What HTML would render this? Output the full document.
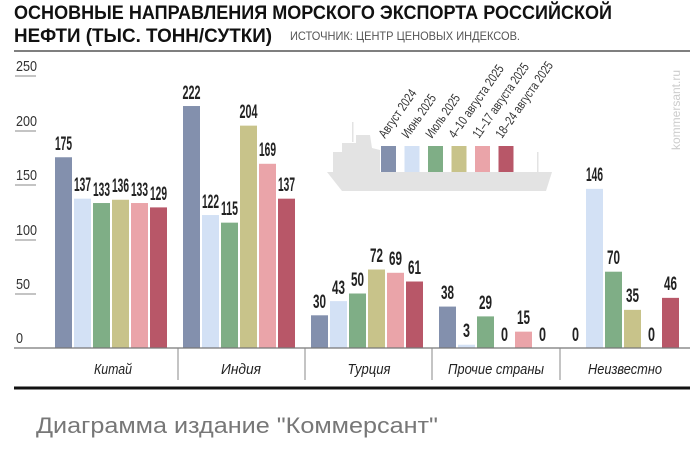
<!DOCTYPE html>
<html><head><meta charset="utf-8"><style>
html,body{margin:0;padding:0;background:#fff;}
svg{display:block;}
.t{font-family:"Liberation Sans Narrow","Liberation Sans",sans-serif;font-weight:bold;}
.v{font-family:"Liberation Sans Narrow","Liberation Sans",sans-serif;font-weight:bold;font-size:19px;fill:#222;text-anchor:middle;}
.ax{font-family:"Liberation Sans Narrow","Liberation Sans",sans-serif;font-size:15px;fill:#333;}
.c{font-family:"Liberation Sans Narrow","Liberation Sans",sans-serif;font-style:italic;font-size:15px;fill:#222;text-anchor:middle;}
.lg{font-family:"Liberation Sans Narrow","Liberation Sans",sans-serif;font-size:13px;fill:#333;}
</style></head><body>
<svg width="700" height="457" viewBox="0 0 700 457" xmlns="http://www.w3.org/2000/svg">
<text x="14" y="19" class="t" font-size="19" fill="#111" textLength="598" lengthAdjust="spacingAndGlyphs">ОСНОВНЫЕ НАПРАВЛЕНИЯ МОРСКОГО ЭКСПОРТА РОССИЙСКОЙ</text>
<text x="14" y="42" class="t" font-size="19" fill="#111" textLength="258" lengthAdjust="spacingAndGlyphs">НЕФТИ (ТЫС. ТОНН/СУТКИ)</text>
<text x="290" y="40" font-family="Liberation Sans Narrow,Liberation Sans,sans-serif" font-size="12" fill="#555" textLength="230" lengthAdjust="spacingAndGlyphs">ИСТОЧНИК: ЦЕНТР ЦЕНОВЫХ ИНДЕКСОВ.</text>
<line x1="14" y1="51" x2="690" y2="51" stroke="#555" stroke-width="1.5"/>
<text x="680" y="150" transform="rotate(-90 680 150)" font-family="Liberation Sans,sans-serif" font-size="12" fill="#ccc">kommersant.ru</text>
<g class="ax">
<text x="16" y="71" textLength="21" lengthAdjust="spacingAndGlyphs">250</text><line x1="15" y1="76" x2="36" y2="76" stroke="#888"/>
<text x="16" y="126" textLength="21" lengthAdjust="spacingAndGlyphs">200</text><line x1="15" y1="131" x2="36" y2="131" stroke="#888"/>
<text x="16" y="180" textLength="21" lengthAdjust="spacingAndGlyphs">150</text><line x1="15" y1="185" x2="36" y2="185" stroke="#888"/>
<text x="16" y="235" textLength="21" lengthAdjust="spacingAndGlyphs">100</text><line x1="15" y1="240" x2="36" y2="240" stroke="#888"/>
<text x="16" y="289" textLength="14" lengthAdjust="spacingAndGlyphs">50</text><line x1="15" y1="294" x2="36" y2="294" stroke="#888"/>
<text x="16" y="343" textLength="7" lengthAdjust="spacingAndGlyphs">0</text>
</g>
<g fill="#e3e3e3">
<polygon points="327,172 552,172 546,191 342,191"/>
<polygon points="333,172 333,152 342,152 342,143 356,143 356,135 370,135 372,148 380,150 380,172"/>
<rect x="352" y="122" width="1.5" height="20"/>
<rect x="537" y="152" width="1.5" height="20"/>
</g>
<rect x="381" y="146" width="15" height="26" fill="#8390ad"/>
<rect x="404.5" y="146" width="15" height="26" fill="#d3e1f5"/>
<rect x="428" y="146" width="15" height="26" fill="#7fae86"/>
<rect x="451.5" y="146" width="15" height="26" fill="#c8c38a"/>
<rect x="475" y="146" width="15" height="26" fill="#eaa4a9"/>
<rect x="498.5" y="146" width="15" height="26" fill="#b85768"/>
<g class="lg">
<text transform="translate(385 139) rotate(-55)" textLength="56" lengthAdjust="spacingAndGlyphs">Август 2024</text>
<text transform="translate(408 139) rotate(-55)" textLength="50" lengthAdjust="spacingAndGlyphs">Июнь 2025</text>
<text transform="translate(432 139) rotate(-55)" textLength="50" lengthAdjust="spacingAndGlyphs">Июль 2025</text>
<text transform="translate(455 139) rotate(-55)" textLength="86" lengthAdjust="spacingAndGlyphs">4–10 августа 2025</text>
<text transform="translate(479 139) rotate(-55)" textLength="88" lengthAdjust="spacingAndGlyphs">11–17 августа 2025</text>
<text transform="translate(502 139) rotate(-55)" textLength="90" lengthAdjust="spacingAndGlyphs">18–24 августа 2025</text>
</g>
<g>
<rect x="55" y="157.25" width="17" height="190.75" fill="#8390ad"/>
<rect x="74" y="198.67" width="17" height="149.33" fill="#d3e1f5"/>
<rect x="93" y="203.03" width="17" height="144.97" fill="#7fae86"/>
<rect x="112" y="199.76" width="17" height="148.24" fill="#c8c38a"/>
<rect x="131" y="203.03" width="17" height="144.97" fill="#eaa4a9"/>
<rect x="150" y="207.39" width="17" height="140.61" fill="#b85768"/>
<rect x="183" y="106.02" width="17" height="241.98" fill="#8390ad"/>
<rect x="202" y="215.02" width="17" height="132.98" fill="#d3e1f5"/>
<rect x="221" y="222.65" width="17" height="125.35" fill="#7fae86"/>
<rect x="240" y="125.64" width="17" height="222.36" fill="#c8c38a"/>
<rect x="259" y="163.79" width="17" height="184.21" fill="#eaa4a9"/>
<rect x="278" y="198.67" width="17" height="149.33" fill="#b85768"/>
<rect x="311" y="315.3" width="17" height="32.7" fill="#8390ad"/>
<rect x="330" y="301.13" width="17" height="46.87" fill="#d3e1f5"/>
<rect x="349" y="293.5" width="17" height="54.5" fill="#7fae86"/>
<rect x="368" y="269.52" width="17" height="78.48" fill="#c8c38a"/>
<rect x="387" y="272.79" width="17" height="75.21" fill="#eaa4a9"/>
<rect x="406" y="281.51" width="17" height="66.49" fill="#b85768"/>
<rect x="439" y="306.58" width="17" height="41.42" fill="#8390ad"/>
<rect x="458" y="344.73" width="17" height="3.27" fill="#d3e1f5"/>
<rect x="477" y="316.39" width="17" height="31.61" fill="#7fae86"/>
<rect x="515" y="331.65" width="17" height="16.35" fill="#eaa4a9"/>
<rect x="586" y="188.86" width="17" height="159.14" fill="#d3e1f5"/>
<rect x="605" y="271.7" width="17" height="76.3" fill="#7fae86"/>
<rect x="624" y="309.85" width="17" height="38.15" fill="#c8c38a"/>
<rect x="662" y="297.86" width="17" height="50.14" fill="#b85768"/>
</g>
<g class="v">
<text x="63.5" y="150" textLength="17" lengthAdjust="spacingAndGlyphs">175</text><text x="82.5" y="191" textLength="17" lengthAdjust="spacingAndGlyphs">137</text><text x="101.5" y="196" textLength="17" lengthAdjust="spacingAndGlyphs">133</text><text x="120.5" y="192" textLength="17" lengthAdjust="spacingAndGlyphs">136</text><text x="139.5" y="196" textLength="17" lengthAdjust="spacingAndGlyphs">133</text><text x="158.5" y="200" textLength="17" lengthAdjust="spacingAndGlyphs">129</text>
<text x="191.5" y="99" textLength="18" lengthAdjust="spacingAndGlyphs">222</text><text x="210.5" y="208" textLength="17" lengthAdjust="spacingAndGlyphs">122</text><text x="229.5" y="215" textLength="17" lengthAdjust="spacingAndGlyphs">115</text><text x="248.5" y="118" textLength="18" lengthAdjust="spacingAndGlyphs">204</text><text x="267.5" y="156" textLength="17" lengthAdjust="spacingAndGlyphs">169</text><text x="286.5" y="191" textLength="17" lengthAdjust="spacingAndGlyphs">137</text>
<text x="319.5" y="308" textLength="13" lengthAdjust="spacingAndGlyphs">30</text><text x="338.5" y="294" textLength="13" lengthAdjust="spacingAndGlyphs">43</text><text x="357.5" y="286" textLength="13" lengthAdjust="spacingAndGlyphs">50</text><text x="376.5" y="262" textLength="13" lengthAdjust="spacingAndGlyphs">72</text><text x="395.5" y="265" textLength="13" lengthAdjust="spacingAndGlyphs">69</text><text x="414.5" y="274" textLength="13" lengthAdjust="spacingAndGlyphs">61</text>
<text x="447.5" y="299" textLength="13" lengthAdjust="spacingAndGlyphs">38</text><text x="466.5" y="337" textLength="7" lengthAdjust="spacingAndGlyphs">3</text><text x="485.5" y="309" textLength="13" lengthAdjust="spacingAndGlyphs">29</text><text x="504.5" y="341" textLength="7" lengthAdjust="spacingAndGlyphs">0</text><text x="523.5" y="324" textLength="13" lengthAdjust="spacingAndGlyphs">15</text><text x="542.5" y="341" textLength="7" lengthAdjust="spacingAndGlyphs">0</text>
<text x="575.5" y="341" textLength="7" lengthAdjust="spacingAndGlyphs">0</text><text x="594.5" y="181" textLength="17" lengthAdjust="spacingAndGlyphs">146</text><text x="613.5" y="264" textLength="13" lengthAdjust="spacingAndGlyphs">70</text><text x="632.5" y="302" textLength="13" lengthAdjust="spacingAndGlyphs">35</text><text x="651.5" y="341" textLength="7" lengthAdjust="spacingAndGlyphs">0</text><text x="670.5" y="290" textLength="13" lengthAdjust="spacingAndGlyphs">46</text>
</g>
<line x1="14" y1="348" x2="690" y2="348" stroke="#777" stroke-width="1.2"/>
<g stroke="#888" stroke-width="1">
<line x1="178" y1="348" x2="178" y2="380"/>
<line x1="305" y1="348" x2="305" y2="380"/>
<line x1="432" y1="348" x2="432" y2="380"/>
<line x1="560" y1="348" x2="560" y2="380"/>
</g>
<text class="c" x="113" y="374" textLength="38" lengthAdjust="spacingAndGlyphs">Китай</text>
<text class="c" x="241" y="374" textLength="40" lengthAdjust="spacingAndGlyphs">Индия</text>
<text class="c" x="369" y="374" textLength="43" lengthAdjust="spacingAndGlyphs">Турция</text>
<text class="c" x="496" y="374" textLength="96" lengthAdjust="spacingAndGlyphs">Прочие страны</text>
<text class="c" x="625" y="374" textLength="74" lengthAdjust="spacingAndGlyphs">Неизвестно</text>
<line x1="14" y1="388" x2="690" y2="388" stroke="#111" stroke-width="3"/>
<text x="36" y="433" font-family="Liberation Sans,sans-serif" font-size="22" fill="#777" textLength="402" lengthAdjust="spacingAndGlyphs">Диаграмма издание "Коммерсант"</text>
</svg>
</body></html>
